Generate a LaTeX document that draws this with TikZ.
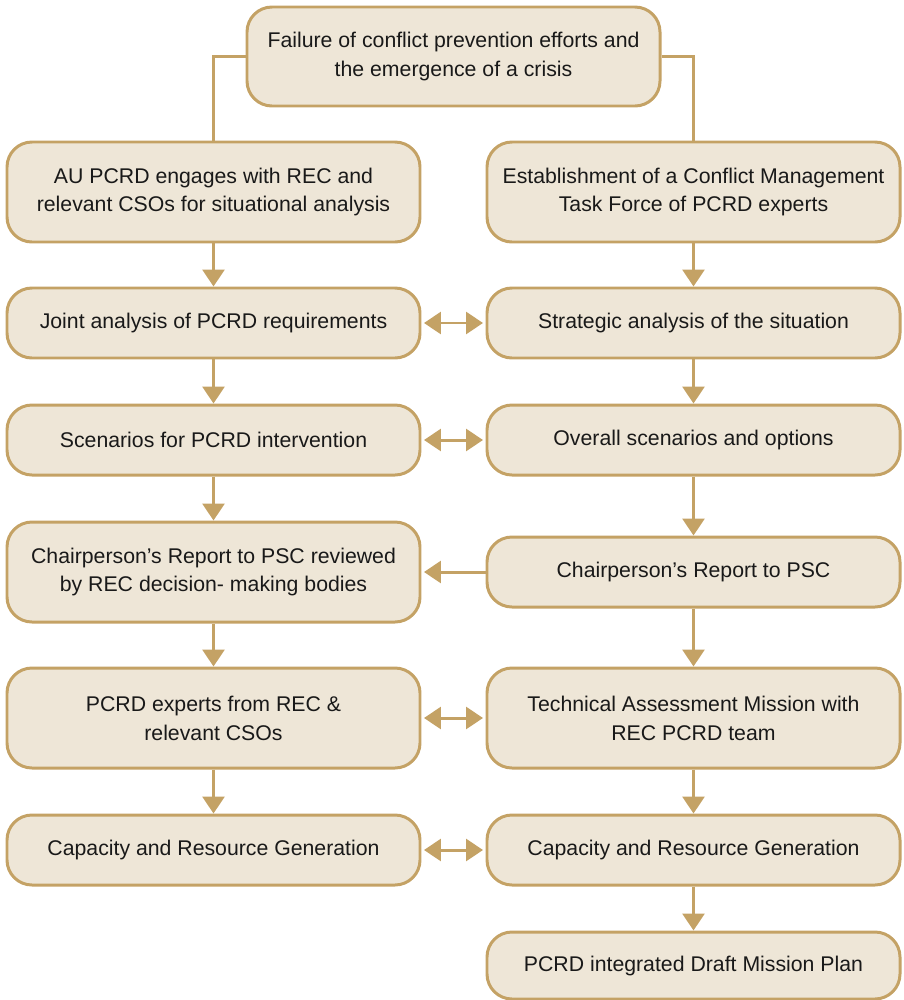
\documentclass[tikz,border=0pt]{standalone}
\usepackage{fontspec}
\setmainfont{Liberation Sans}
\usetikzlibrary{arrows.meta}
\definecolor{boxline}{HTML}{C4A265}
\definecolor{boxfill}{HTML}{EEE6D7}
\tikzset{
  stagebox/.style={draw=boxline, fill=boxfill, line width=1.7pt, rounded corners=0.5cm,
    minimum width=8.26cm, align=center, text=black!90,
    font=\fontsize{12.1}{16.4}\selectfont},
  tall/.style={minimum height=2cm},
  short/.style={minimum height=1.4cm},
  link/.style={draw=boxline, line width=1.7pt},
}
\begin{document}
\begin{tikzpicture}[>={Triangle[length=0.34cm,width=0.44cm]}]
\useasboundingbox (0,0) rectangle (18.06,-20);
% top
\node[stagebox, tall, minimum height=1.98cm] (crisis) at (9.07,-1.13) {Failure of conflict prevention efforts and\\the emergence of a crisis};
% left column
\node[stagebox, tall] (aulink) at (4.27,-3.84) {AU PCRD engages with REC and\\relevant CSOs for situational analysis};
\node[stagebox, short] (joint) at (4.27,-6.46) {Joint analysis of PCRD requirements};
\node[stagebox, short] (scenl) at (4.27,-8.8) {Scenarios for PCRD intervention};
\node[stagebox, tall] (reviewed) at (4.27,-11.44) {Chairperson’s Report to PSC reviewed\\by REC decision- making bodies};
\node[stagebox, tall] (experts) at (4.27,-14.36) {PCRD experts from REC \&\\relevant CSOs};
\node[stagebox, short] (capl) at (4.27,-17) {Capacity and Resource Generation};
% right column
\node[stagebox, tall] (taskforce) at (13.87,-3.84) {Establishment of a Conflict Management\\Task Force of PCRD experts};
\node[stagebox, short] (strategic) at (13.87,-6.46) {Strategic analysis of the situation};
\node[stagebox, short] (scenr) at (13.87,-8.8) {Overall scenarios and options};
\node[stagebox, short] (report) at (13.87,-11.44) {Chairperson’s Report to PSC};
\node[stagebox, tall] (mission) at (13.87,-14.36) {Technical Assessment Mission with\\REC PCRD team};
\node[stagebox, short] (capr) at (13.87,-17) {Capacity and Resource Generation};
\node[stagebox, short, minimum height=1.34cm] (plan) at (13.87,-19.31) {PCRD integrated Draft Mission Plan};
% split from the top box
\draw[link] (crisis.west) -| (aulink.north);
\draw[link] (crisis.east) -| (taskforce.north);
% down the columns
\foreach \a/\b in {aulink/joint, joint/scenl, scenl/reviewed, reviewed/experts, experts/capl,
                   taskforce/strategic, strategic/scenr, scenr/report, report/mission, mission/capr, capr/plan}
  \draw[link, ->] (\a.south) -- (\b.north);
% across
\foreach \a/\b in {joint/strategic, scenl/scenr, experts/mission, capl/capr}
  \draw[link, <->] ([xshift=0.05cm]\a.east) -- ([xshift=-0.05cm]\b.west);
\draw[link, ->] (report.west) -- ([xshift=0.05cm]reviewed.east);
\end{tikzpicture}
\end{document}
